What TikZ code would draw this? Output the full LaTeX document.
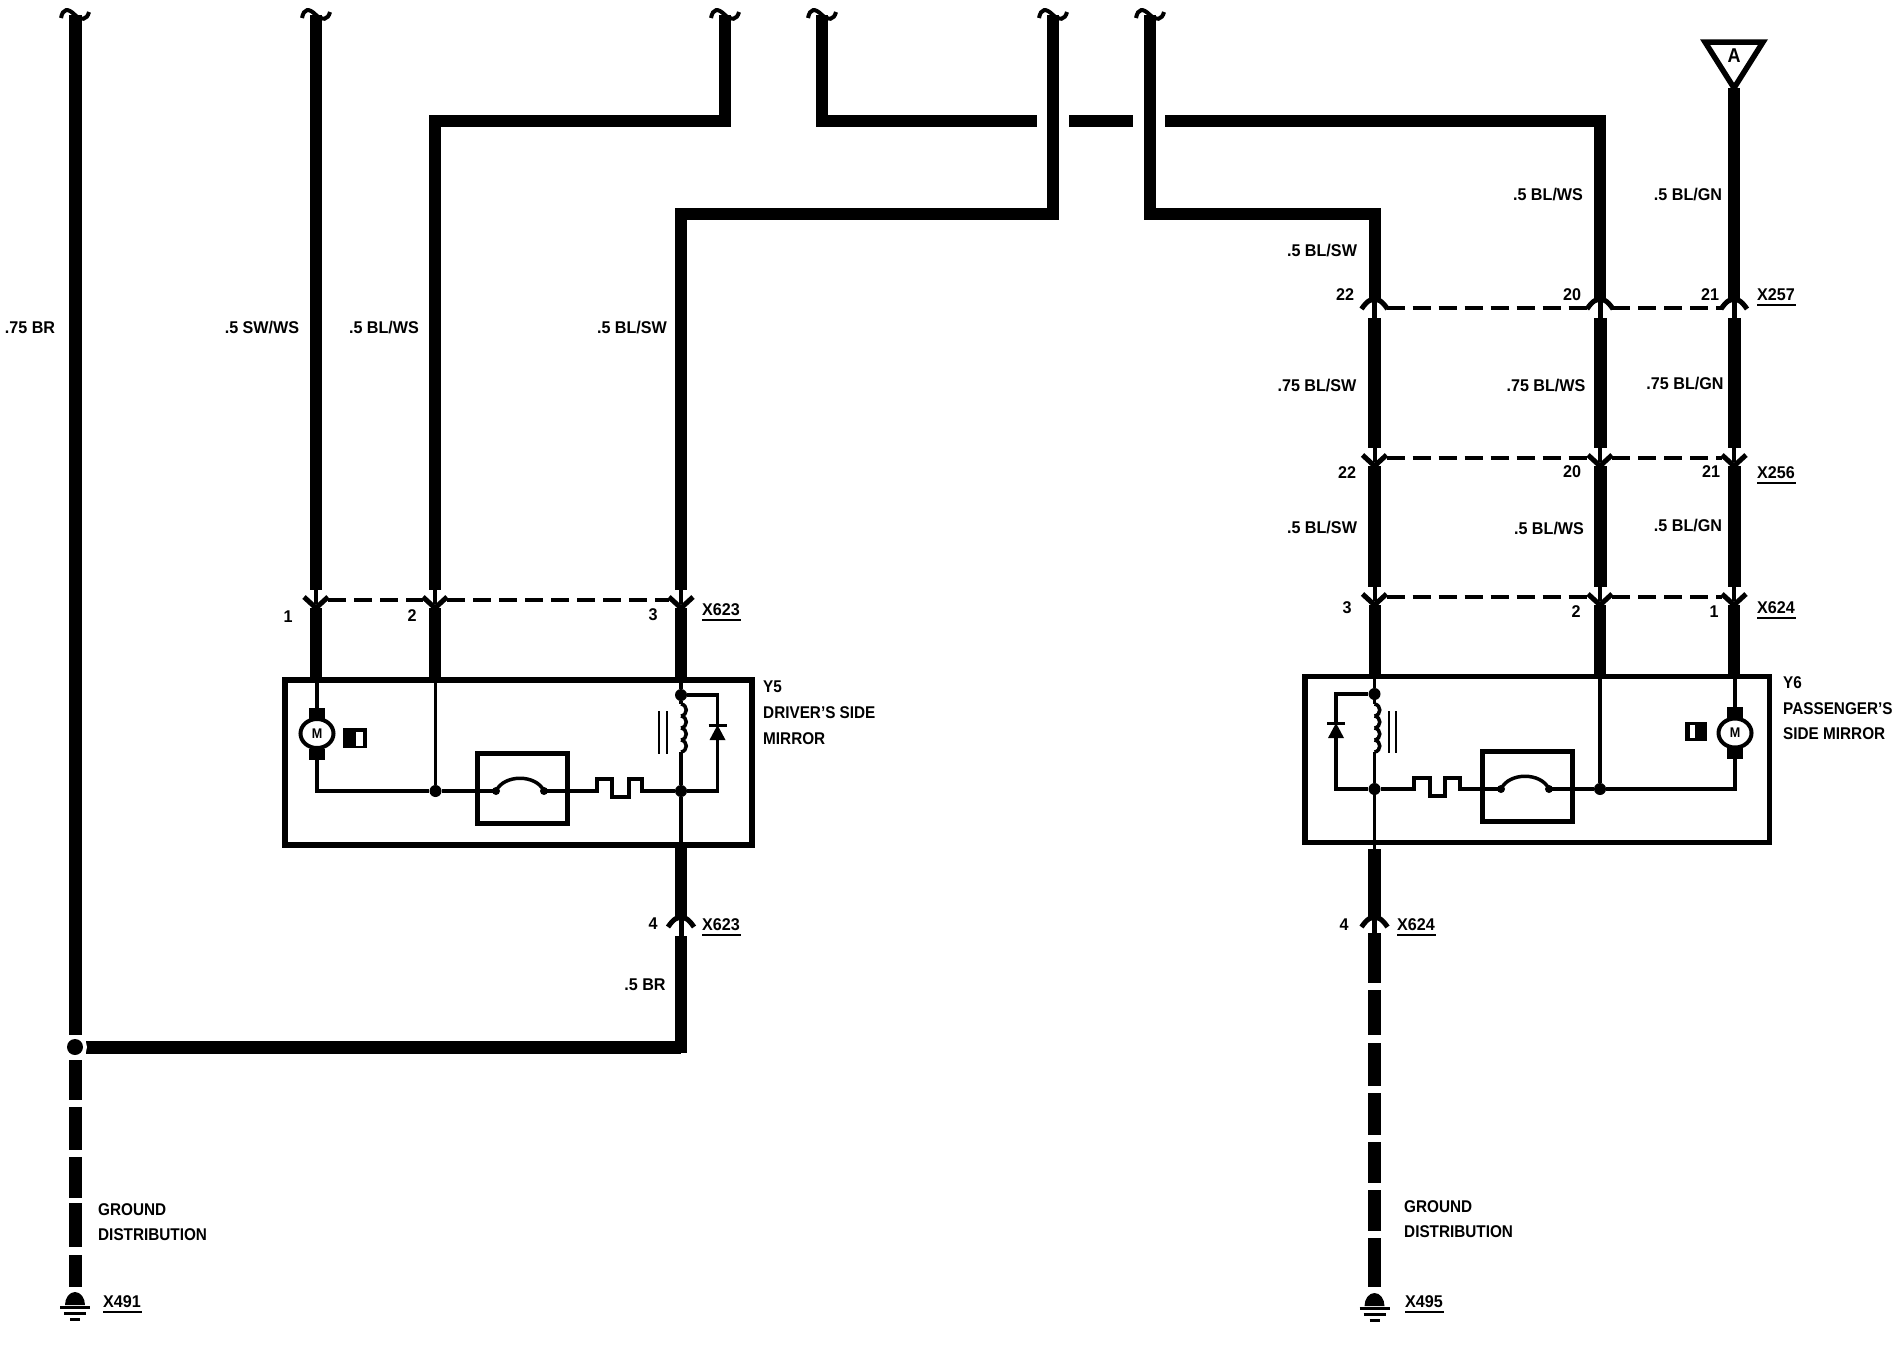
\documentclass[tikz,border=0pt]{standalone}
\usepackage{fontspec}
\setmainfont{Liberation Sans}[FakeStretch=0.9]
\newfontfamily\wirefont{Liberation Sans}[FakeStretch=0.95]
\usetikzlibrary{positioning}
\usetikzlibrary{shapes.geometric}
\tikzset{x=1pt,y=-1pt, % Picture is laid out in reference pixels
      wire/.style={line width=12pt}, % Main harness wires
      trace/.style={line width=3.5pt}, % Thin lines inside the mirrors
      link/.style={line width=4pt,dash pattern=on 18pt off 8pt}, % Connector housing
      housing/.style={draw,line width=5.5pt,inner sep=0pt},
      lbl/.style={inner sep=0pt,font=\fontsize{17}{17}\bfseries\selectfont},
      tag/.style={lbl,anchor=west},
      pin/.style={inner sep=0pt,font=\fontsize{17}{17}\wirefont\bfseries},
      xtag/.style={pin,anchor=west},
      under/.style={line width=2.5pt},
      dot/.style={circle,fill=black,inner sep=0pt,minimum size=12pt},
      % Wire break at the top of the sheet
      brk/.pic={
            \coordinate (-c) at (0,0);
            \draw[line width=4pt] (-14,3) .. controls (-12,-7) and (-7,-7) .. (0,0)
                  .. controls (6,6) and (12,5) .. (14,-3);
      },
      % Connector with the cup open to the top
      cupconn/.pic={
            \coordinate (-c) at (0,0);
            \coordinate (-u) at (0,-10);
            \coordinate (-d) at (0,8);
            \draw[line width=4pt] (0,-10) -- (0,4);
            \draw[line width=5pt] (-12,-3) -- (0,8) -- (12,-3);
      },
      % Connector with the cup open to the bottom
      capconn/.pic={
            \coordinate (-c) at (0,0);
            \coordinate (-u) at (0,-6);
            \coordinate (-d) at (0,10);
            \draw[line width=5pt] (-13,1) .. controls (-7,-8) and (-3,-9) .. (0,-8)
                  .. controls (3,-9) and (7,-8) .. (13,1);
            \draw[line width=5pt] (0,-6) -- (0,10);
      },
      motor/.pic={
            \node[draw,ellipse,line width=4pt,minimum width=33pt,minimum height=29pt,inner sep=0pt,
                  font=\fontsize{14}{14}\bfseries\selectfont] (-m) at (0,0) {M};
            \fill (-8,-26) rectangle (8,-15);
            \fill (-8,15) rectangle (8,26);
            \coordinate (-t) at (0,-26);
            \coordinate (-b) at (0,26);
      },
      contact/.pic={ % Thermal switch in its square
            \draw[line width=5pt] (-45,-38) rectangle (45,32);
            \coordinate (-l) at (-26,0);
            \coordinate (-r) at (22,0);
            \fill (-26,0) circle (4pt) (22,0) circle (4pt);
            \draw[trace] (-26,0) .. controls (-18,-17) and (14,-17) .. (22,0);
      },
      coil/.pic={
            \coordinate (-t) at (0,0);
            \coordinate (-b) at (0,48);
            \foreach \i in {0,1,2,3}
                  \draw[trace] (0,\i*12) .. controls (7,\i*12+1) and (7,\i*12+11) .. (0,\i*12+12);
      },
      diode/.pic={
            \draw[line width=3pt] (-9,0) -- (9,0);
            \fill (0,0) -- (8,15) -- (-8,15) -- cycle;
      },
      ground/.pic={
            \coordinate (-c) at (0,0);
            \fill (-10,14) arc[start angle=180,end angle=360,x radius=10,y radius=13] -- cycle;
            \draw[line width=3pt] (-15,16) -- (15,16);
            \draw[line width=3pt] (-11,22) -- (11,22);
            \draw[line width=3pt] (-5,28) -- (5,28);
      }}

\begin{document}
\begin{tikzpicture}
      \useasboundingbox (0,0) rectangle (1902,1344);
      % wire breaks along the top
      \foreach \n/\x in {ta/75,tb/316,tc/725,td/822,te/1053,tf/1150}
            \pic (\n) at (\x,15) {brk};
      \coordinate (ta-j) at (75,1047);

      % connectors
      \pic (pa) at (316,600) {cupconn};
      \pic (pb) at (435,600) {cupconn};
      \pic (pc) at (681,600) {cupconn};
      \pic (pd) at (681,926) {capconn};
      \pic (qa) at (1374.5,308) {capconn};
      \pic (qb) at (1600,308) {capconn};
      \pic (qc) at (1734,308) {capconn};
      \pic (ra) at (1374.5,458) {cupconn};
      \pic (rb) at (1600,458) {cupconn};
      \pic (rc) at (1734,458) {cupconn};
      \pic (sa) at (1374.5,597) {cupconn};
      \pic (sb) at (1600,597) {cupconn};
      \pic (sc) at (1734,597) {cupconn};
      \pic (sd) at (1374.5,926) {capconn};
      \foreach \a/\b in {pa/pb,pb/pc,qa/qb,qb/qc,ra/rb,rb/rc,sa/sb,sb/sc}
            \draw[link,shorten <=12pt,shorten >=12pt] (\a-c) -- (\b-c);

      % mirror housings
      \node[housing,minimum width=467pt,minimum height=165pt] (yfive) at (518.4,762.5) {};
      \node[housing,minimum width=464.5pt,minimum height=166pt] (ysix) at (1537.2,759.5) {};

      % triangle A
      \node[inner sep=0pt,font=\fontsize{20}{20}\bfseries\selectfont] (flag) at (1734,56) {A};
      \coordinate (flag-l) at (1705,42);
      \coordinate (flag-r) at (1763,42);
      \coordinate (flag-b) at (1734,88);
      \draw[line width=5.5pt,miter limit=10] (flag-l) -- (flag-r) -- (flag-b) -- cycle;

      % main wires
      \draw[line width=13pt] (ta-c) -- (75,1035);
      \draw[line width=13pt] (86,1047) -- (pd-d |- ta-j);
      \draw[line width=12.5pt] (pd-d) -- (681,1053);
      \fill[white] (ta-j) circle (12pt);
      \fill (ta-j) circle (8pt);
      \coordinate (nb) at (435,121);
      \coordinate (nc) at (681,214);
      \coordinate (nd) at (822,121);
      \coordinate (ne) at (1053,214);
      \coordinate (nf) at (1150,214);
      \coordinate (ng) at (1374.5,214);
      \coordinate (nh) at (1600,121);
      \draw[wire] (tb-c) -- (pa-u);
      \draw[wire] (tc-c) -- (tc-c |- nb) -- (nb) -- (pb-u);
      \draw[wire] (te-c) -- (ne) -- (nc) -- (pc-u);
      \draw[wire] (td-c) -- (nd) -- (1037,121);
      \draw[wire] (1069,121) -- (1133,121);
      \draw[wire] (1165,121) -- (nh) -- (qb-u);
      \draw[wire] (tf-c) -- (nf) -- (ng) -- (qa-u);
      \draw[wire] (flag-b) -- (qc-u);
      \foreach \a/\b in {q/r,r/s}
            \foreach \c in {a,b,c}
                  \draw[line width=13pt] (\a\c-d) -- (\b\c-u);
      \draw[wire] (pa-d) -- (316,678);
      \draw[wire] (pb-d) -- (435,678);
      \draw[wire] (pc-d) -- (681,678);
      \draw[wire] (sa-d) -- (1374.5,675);
      \draw[wire] (sb-d) -- (1600,675);
      \draw[wire] (sc-d) -- (1734,675);
      \draw[wire] (yfive.south -| pd-c) -- (pd-u);
      \draw[line width=12.5pt] (1374.5,849) -- (sd-u);

      % dashed ground runs
      \foreach \ya/\yb in {1060/1100,1107/1150,1157/1198,1203/1247,1255/1287}
            \draw[line width=13pt] (75,\ya) -- (75,\yb);
      \foreach \ya/\yb in {933/983,990/1035,1043/1086,1093/1135,1142/1183,1190/1231,1238/1287}
            \draw[line width=13pt] (1374.5,\ya) -- (1374.5,\yb);
      \pic (ga) at (75,1291) {ground};
      \pic (gb) at (1374.5,1292) {ground};

      % driver's side mirror
      \pic (ma) at (317,733.5) {motor};
      \fill (343,728) rectangle (367,748);
      \fill[white] (356,732) rectangle (363,746);
      \pic (ca) at (522,791) {contact};
      \node[dot] (ja) at (435.5,791) {};
      \node[dot] (jb) at (681,791) {};
      \node[dot] (jc) at (681,695) {};
      \pic (la) at (681,704) {coil};
      \pic (da) at (717.5,725) {diode};
      \draw[line width=2.5pt] (659,711) -- (659,754) (667,711) -- (667,754);
      \draw[trace] (317,680) -- (ma-t);
      \draw[trace] (ma-b) |- (ja);
      \draw[trace] (435.5,680) -- (ja);
      \draw[trace] (ja) -- (ca-l);
      \draw[trace] (ca-r) -- (597,791) -- (597,779) -- (612,779) -- (612,797) -- (629,797)
            -- (629,779) -- (642,779) -- (642,791) -- (jb);
      \draw[trace] (681,680) -- (jc) -- (la-t);
      \draw[trace] (la-b) -- (jb) -- (681,848);
      \draw[trace] (jb) -| (717.5,740);
      \draw[trace] (717.5,725) |- (jc);

      % passenger's side mirror
      \pic (mb) at (1735,733) {motor};
      \fill (1685,722) rectangle (1707,741);
      \fill[white] (1690,725) rectangle (1695,738);
      \pic (cb) at (1527,789) {contact};
      \node[dot] (jd) at (1600,789) {};
      \node[dot] (je) at (1374.5,789) {};
      \node[dot] (jf) at (1374.5,694) {};
      \pic (lb) at (1374.5,704) {coil};
      \pic (db) at (1336,723) {diode};
      \draw[line width=2.5pt] (1389,711) -- (1389,753) (1396,711) -- (1396,753);
      \draw[trace] (1735,677) -- (mb-t);
      \draw[trace] (mb-b) |- (jd);
      \draw[trace] (1600,677) -- (jd);
      \draw[trace] (jd) -- (cb-r);
      \draw[trace] (cb-l) -- (1460,789) -- (1460,778) -- (1445,778) -- (1445,796) -- (1430,796)
            -- (1430,778) -- (1414,778) -- (1414,789) -- (je);
      \draw[trace] (1374.5,677) -- (jf) -- (lb-t);
      \draw[trace] (lb-b) -- (je) -- (1374.5,849);
      \draw[trace] (je) -| (1336,738);
      \draw[trace] (1336,723) |- (jf);

      % wire labels
      \node[pin] (l01) at (30,328) {.75 BR};
      \node[pin] (l02) at (262,328) {.5 SW/WS};
      \node[pin] (l03) at (384,328) {.5 BL/WS};
      \node[pin] (l04) at (632,328) {.5 BL/SW};
      \node[pin] (l05) at (645,985) {.5 BR};
      \node[pin] (l06) at (1322,251) {.5 BL/SW};
      \node[pin] (l07) at (1548,195) {.5 BL/WS};
      \node[pin] (l08) at (1688,195) {.5 BL/GN};
      \node[pin] (l09) at (1317,386) {.75 BL/SW};
      \node[pin] (l10) at (1546,386) {.75 BL/WS};
      \node[pin] (l11) at (1685,384) {.75 BL/GN};
      \node[pin] (l12) at (1322,528) {.5 BL/SW};
      \node[pin] (l13) at (1549,529) {.5 BL/WS};
      \node[pin] (l14) at (1688,526) {.5 BL/GN};

      % pin numbers
      \foreach \n/\x/\y/\t in {n1/288/617/1,n2/412/616/2,n3/653/615/3,n4/653/924/4,
            n5/1345/295/22,n6/1572/295/20,n7/1710/295/21,
            n8/1347/473/22,n9/1572/472/20,n10/1711/472/21,
            n11/1347/608/3,n12/1576/612/2,n13/1714/612/1,n14/1344/925/4}
            \node[pin] (\n) at (\x,\y) {\t};

      % connector names
      \foreach \n/\x/\y/\t in {xa/702/610/X623,xb/702/925/X623,xc/1757/295/X257,xd/1757/473/X256,
            xe/1757/608/X624,xf/1397/925/X624,xg/103/1302/X491,xh/1405/1302/X495}{
            \node[xtag] (\n) at (\x,\y) {\t};
            \draw[under] (\n.south west)+(0,4) -- ++(39,4);
      }

      % mirror names
      \node[tag] (y5a) at (763,687) {Y5};
      \node[tag] (y5b) at (763,713) {DRIVER'S SIDE};
      \node[tag] (y5c) at (763,739) {MIRROR};
      \node[tag] (y6a) at (1783,683) {Y6};
      \node[tag] (y6b) at (1783,709) {PASSENGER'S};
      \node[tag] (y6c) at (1783,734) {SIDE MIRROR};

      % ground notes
      \node[tag] (gn1) at (98,1210) {GROUND};
      \node[tag] (gn2) at (98,1235) {DISTRIBUTION};
      \node[tag] (gn3) at (1404,1207) {GROUND};
      \node[tag] (gn4) at (1404,1232) {DISTRIBUTION};
\end{tikzpicture}
\end{document}
